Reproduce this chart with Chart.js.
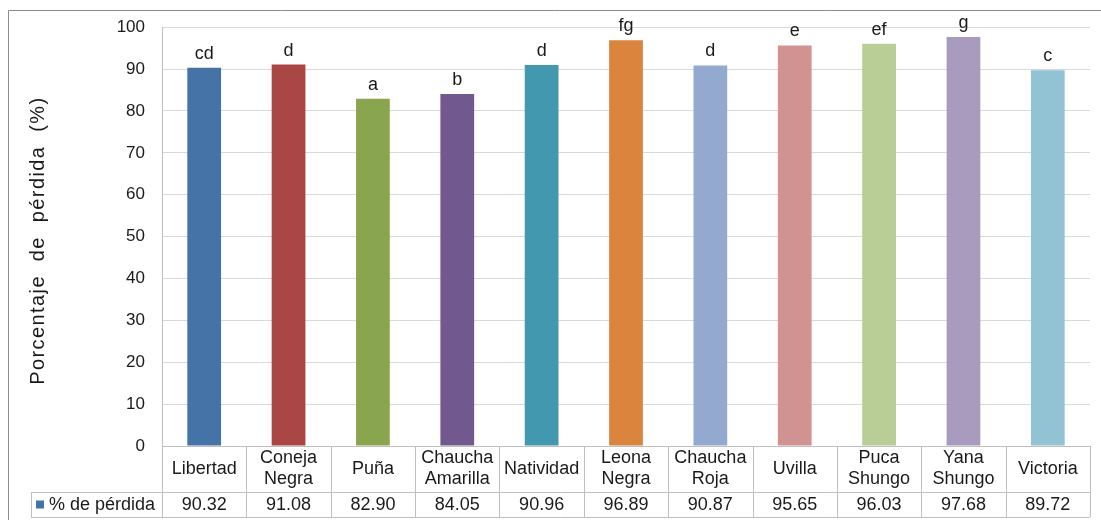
<!DOCTYPE html>
<html lang="es">
<head>
<meta charset="utf-8">
<title>Porcentaje de pérdida</title>
<script src="https://cdn.jsdelivr.net/npm/chart.js@4.4.1/dist/chart.umd.min.js"></script>
<style>
  html, body { margin: 0; padding: 0; background: #fff; }
</style>
</head>
<body>
<canvas id="lossChart" width="1101" height="520"></canvas>
<script>
// varieties (multi-line labels for the table header)
const varieties = [
  ['Libertad'], ['Coneja', 'Negra'], ['Puña'], ['Chaucha', 'Amarilla'], ['Natividad'],
  ['Leona', 'Negra'], ['Chaucha', 'Roja'], ['Uvilla'], ['Puca', 'Shungo'], ['Yana', 'Shungo'], ['Victoria']
];
const lossPct = [90.32, 91.08, 82.90, 84.05, 90.96, 96.89, 90.87, 95.65, 96.03, 97.68, 89.72];
const groupLetters = ['cd', 'd', 'a', 'b', 'd', 'fg', 'd', 'e', 'ef', 'g', 'c'];
const seriesName = '% de pérdida';
const yTitle = 'Porcentaje  de  pérdida  (%)';
const yMin = 0, yMax = 100, yStep = 10;

const barColors = [
  '#4572a7', '#aa4643', '#89a54e', '#71588f', '#4198af', '#db843d',
  '#93a9cf', '#d19392', '#b9cd96', '#a99bbd', '#92c3d4'
];

const FONT = "'Liberation Sans', Arial, sans-serif";
const TEXT = '#1a1a1a';
const LINE = '#bfbfbf';

// frame around the whole chart (only top and left edges fall inside the canvas)
const chartFrame = {
  id: 'chartFrame',
  beforeDraw(chart) {
    const { ctx } = chart;
    ctx.save();
    ctx.strokeStyle = '#8c8c8c';
    ctx.lineWidth = 1;
    ctx.beginPath();
    ctx.moveTo(8.5, chart.height);
    ctx.lineTo(8.5, 10.5);
    ctx.lineTo(chart.width, 10.5);
    ctx.stroke();
    ctx.restore();
  }
};

// rotated axis title, drawn by hand so it can be letter-spaced
const axisTitle = {
  id: 'axisTitle',
  afterDraw(chart) {
    const { ctx, chartArea: { top, bottom } } = chart;
    ctx.save();
    ctx.translate(38, (top + bottom) / 2 + 4);
    ctx.rotate(-Math.PI / 2);
    ctx.font = `20px ${FONT}`;
    ctx.letterSpacing = '1.4px';
    ctx.fillStyle = TEXT;
    ctx.textAlign = 'center';
    ctx.textBaseline = 'middle';
    ctx.fillText(yTitle, 0, 0);
    ctx.restore();
  }
};

// letters over the bars + data table under the axis
const dataTable = {
  id: 'dataTable',
  afterDatasetsDraw(chart) {
    const { ctx, chartArea: { left, right, top, bottom } } = chart;
    const xs = chart.scales.x;
    const bars = chart.getDatasetMeta(0).data;
    const colW = (right - left) / varieties.length;
    const rowSplit = bottom + 46;
    const tableBottom = bottom + 71;
    const legendLeft = 31;

    ctx.save();

    // significance letters
    ctx.fillStyle = TEXT;
    ctx.font = `18px ${FONT}`;
    ctx.textAlign = 'center';
    ctx.textBaseline = 'alphabetic';
    bars.forEach((bar, i) => {
      ctx.fillText(groupLetters[i], bar.x, bar.y - 9);
    });

    // table grid
    ctx.strokeStyle = LINE;
    ctx.lineWidth = 1;
    ctx.beginPath();
    ctx.moveTo(left + 0.5, top);
    ctx.lineTo(left + 0.5, tableBottom);
    ctx.moveTo(left, Math.round(bottom) + 0.5);
    ctx.lineTo(right, Math.round(bottom) + 0.5);
    ctx.moveTo(legendLeft, rowSplit + 0.5);
    ctx.lineTo(right, rowSplit + 0.5);
    ctx.moveTo(legendLeft, tableBottom + 0.5);
    ctx.lineTo(right, tableBottom + 0.5);
    ctx.moveTo(legendLeft + 0.5, rowSplit);
    ctx.lineTo(legendLeft + 0.5, tableBottom);
    for (let i = 1; i <= varieties.length; i++) {
      const x = Math.round(xs.getPixelForValue(i - 1) + colW / 2) + 0.5;
      ctx.moveTo(x, bottom);
      ctx.lineTo(x, tableBottom);
    }
    ctx.stroke();

    // header labels and values
    ctx.fillStyle = TEXT;
    ctx.font = `18px ${FONT}`;
    ctx.textBaseline = 'middle';
    const headMid = (bottom + rowSplit) / 2;
    varieties.forEach((lines, i) => {
      const cx = xs.getPixelForValue(i);
      const lh = 21;
      lines.forEach((ln, k) => {
        ctx.fillText(ln, cx, headMid + (k - (lines.length - 1) / 2) * lh);
      });
      ctx.fillText(lossPct[i].toFixed(2), cx, (rowSplit + tableBottom) / 2 + 1);
    });

    // legend key in the first cell
    const rowMid = (rowSplit + tableBottom) / 2;
    ctx.fillStyle = barColors[0];
    ctx.fillRect(legendLeft + 5, rowMid - 4, 8, 8);
    ctx.fillStyle = TEXT;
    ctx.textAlign = 'left';
    ctx.fillText(seriesName, legendLeft + 18, rowMid + 1);

    ctx.restore();
  }
};

new Chart(document.getElementById('lossChart'), {
  type: 'bar',
  data: {
    labels: varieties,
    datasets: [{
      label: seriesName,
      data: lossPct,
      backgroundColor: barColors,
      borderWidth: 0,
      categoryPercentage: 1,
      barPercentage: 0.4
    }]
  },
  options: {
    responsive: false,
    animation: false,
    layout: { padding: { top: 27, right: 11, bottom: 74, left: 0 } },
    plugins: {
      legend: { display: false },
      tooltip: { enabled: false }
    },
    scales: {
      x: { display: false },
      y: {
        min: yMin,
        max: yMax,
        ticks: {
          stepSize: yStep,
          padding: 17,
          color: TEXT,
          font: { family: FONT, size: 17 }
        },
        grid: { color: '#d9d9d9', drawTicks: false },
        border: { display: false },
        afterFit(scale) { scale.width = 162; }
      }
    }
  },
  plugins: [chartFrame, dataTable, axisTitle]
});
</script>
</body>
</html>
